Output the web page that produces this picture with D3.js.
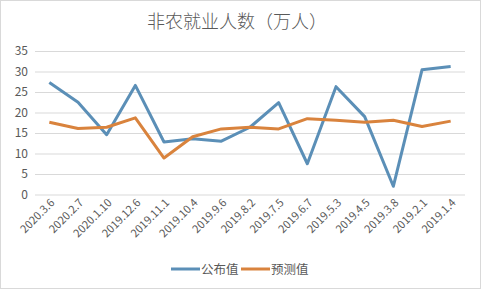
<!DOCTYPE html>
<html lang="zh">
<head>
	<meta charset="UTF-8">
	<title>非农就业人数（万人）</title>
	<script src="https://d3js.org/d3.v7.min.js"></script>
	<style>
		body { margin: 0; background: #fff; }
		text { font-family: "Noto Sans CJK SC", "Liberation Sans", sans-serif; fill: #595959; }
	</style>
</head>
<body>
<div id="chart"></div>
<script>

	// dates of each release
	var dates = ["2020.3.6", "2020.2.7", "2020.1.10", "2019.12.6", "2019.11.1", "2019.10.4", "2019.9.6",
		"2019.8.2", "2019.7.5", "2019.6.7", "2019.5.3", "2019.4.5", "2019.3.8", "2019.2.1", "2019.1.4"];
	var actual = [27.3, 22.5, 14.6, 26.6, 12.8, 13.6, 13.0, 16.4, 22.4, 7.5, 26.3, 19.0, 2.0, 30.4, 31.2];
	var forecast = [17.6, 16.1, 16.4, 18.7, 8.9, 14.1, 16.0, 16.4, 16.0, 18.5, 18.1, 17.6, 18.1, 16.6, 17.9];
	var yTicks = [0, 5, 10, 15, 20, 25, 30, 35];
	var seriesNames = ["公布值", "预测值"];
	var colors = ["#5b8fb7", "#d9833d"];

	var w = 481, h = 289;
	var plotL = 35, plotR = 465, plotT = 51, plotB = 194.5;

	var svg = d3.select("#chart").append("svg")
		.attr("width", w)
		.attr("height", h);

	// outer frame
	svg.append("rect")
		.attr("x", 0.5).attr("y", 0.5)
		.attr("width", w - 1).attr("height", h - 1)
		.attr("fill", "#fff")
		.attr("stroke", "#d9d9d9");

	var x = d3.scaleBand()
		.domain(dates)
		.range([plotL, plotR]);
	var y = d3.scaleLinear()
		.domain([0, 35])
		.range([plotB, plotT]);

	// gridlines + y labels
	var yAxis = svg.append("g")
		.attr("transform", "translate(" + plotL + ",0)")
		.call(d3.axisLeft(y).tickValues(yTicks).tickSize(-(plotR - plotL)).tickPadding(7));
	yAxis.select(".domain").remove();
	yAxis.selectAll("line").attr("stroke", "#d9d9d9");
	yAxis.selectAll("text").attr("font-size", 12).style("fill", "#595959");

	// x labels
	var xAxis = svg.append("g")
		.attr("transform", "translate(0," + plotB + ")")
		.call(d3.axisBottom(x).tickSize(0).tickPadding(0));
	xAxis.select(".domain").remove();
	xAxis.selectAll("text")
		.attr("font-size", 11)
		.style("fill", "#595959")
		.attr("text-anchor", "end")
		.attr("dy", 0)
		.attr("transform", "translate(6,9) rotate(-45)");

	// lines
	var line = d3.line()
		.x(function (d, i) { return x(dates[i]) + x.bandwidth() / 2; })
		.y(function (d) { return y(d); });

	[actual, forecast].forEach(function (vals, k) {
		svg.append("path")
			.datum(vals)
			.attr("fill", "none")
			.attr("stroke", colors[k])
			.attr("stroke-width", 3)
			.attr("stroke-linejoin", "round")
			.attr("d", line);
	});

	// title
	svg.append("text")
		.attr("x", 237).attr("y", 28)
		.attr("text-anchor", "middle")
		.attr("font-size", 18)
		.attr("font-weight", 300)
		.text("非农就业人数（万人）");

	// legend
	var legX = [171, 241];
	seriesNames.forEach(function (name, k) {
		svg.append("line")
			.attr("x1", legX[k]).attr("x2", legX[k] + 29)
			.attr("y1", 269).attr("y2", 269)
			.attr("stroke", colors[k])
			.attr("stroke-width", 3);
		svg.append("text")
			.attr("x", legX[k] + 30).attr("y", 274)
			.attr("font-size", 12.5)
			.text(name);
	});

</script>
</body>
</html>
